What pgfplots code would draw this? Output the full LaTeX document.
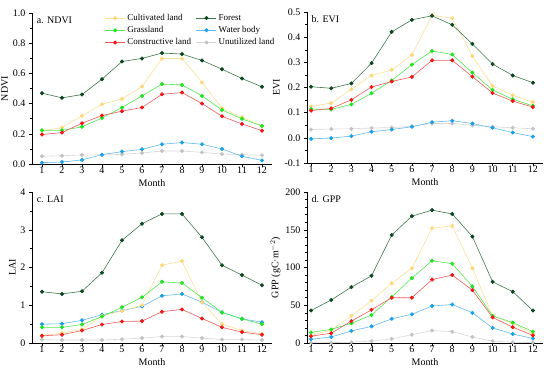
\documentclass[border=0pt]{standalone}
\usepackage{pgfplots}
\pgfplotsset{compat=1.18}
\usepackage{pgfplotstable}
\usepackage{fontspec}
\setmainfont{Liberation Serif}

\definecolor{cultL}{RGB}{250,225,150}
\definecolor{cultM}{RGB}{255,215,120}
\definecolor{forL}{RGB}{60,120,75}
\definecolor{forM}{RGB}{10,70,30}
\definecolor{grassL}{RGB}{80,235,80}
\definecolor{grassM}{RGB}{30,230,30}
\definecolor{consL}{RGB}{240,90,90}
\definecolor{consM}{RGB}{245,20,20}
\definecolor{watL}{RGB}{100,185,240}
\definecolor{watM}{RGB}{25,160,235}
\definecolor{unuL}{RGB}{215,215,215}
\definecolor{unuM}{RGB}{195,195,195}

\pgfplotstableread{
m cult forest grass water constr unut
1 0.22 0.469 0.223 0.009 0.195 0.051
2 0.241 0.438 0.223 0.013 0.208 0.055
3 0.319 0.46 0.246 0.027 0.27 0.06
4 0.396 0.562 0.305 0.062 0.321 0.06
5 0.431 0.679 0.374 0.082 0.35 0.064
6 0.513 0.699 0.451 0.097 0.374 0.073
7 0.699 0.735 0.529 0.131 0.462 0.086
8 0.699 0.728 0.524 0.142 0.473 0.086
9 0.54 0.686 0.451 0.131 0.40 0.077
10 0.369 0.628 0.358 0.10 0.316 0.066
11 0.31 0.566 0.299 0.051 0.265 0.062
12 0.252 0.511 0.252 0.024 0.221 0.058
}\ndvi

\pgfplotstableread{
m cult forest grass water constr unut
1 0.125 0.203 0.114 -0.004 0.108 0.033
2 0.138 0.197 0.113 -0.001 0.117 0.035
3 0.193 0.216 0.133 0.007 0.151 0.036
4 0.248 0.297 0.177 0.024 0.202 0.039
5 0.27 0.421 0.228 0.033 0.224 0.041
6 0.329 0.469 0.291 0.044 0.242 0.046
7 0.487 0.485 0.345 0.062 0.308 0.057
8 0.475 0.449 0.331 0.068 0.308 0.057
9 0.325 0.373 0.259 0.057 0.243 0.05
10 0.206 0.293 0.19 0.04 0.178 0.044
11 0.169 0.248 0.153 0.021 0.146 0.04
12 0.142 0.219 0.127 0.005 0.122 0.036
}\evi

\pgfplotstableread{
m cult forest grass water constr unut
1 0.2 1.36 0.415 0.5 0.19 0.09
2 0.26 1.30 0.415 0.51 0.22 0.08
3 0.36 1.37 0.49 0.6 0.33 0.08
4 0.72 1.86 0.70 0.75 0.49 0.08
5 0.85 2.72 0.945 0.86 0.57 0.1
6 1.0 3.16 1.21 0.97 0.58 0.13
7 2.06 3.42 1.62 1.25 0.83 0.17
8 2.17 3.42 1.59 1.30 0.89 0.17
9 1.08 2.80 1.2 1.08 0.65 0.13
10 0.5 2.06 0.81 0.81 0.415 0.09
11 0.33 1.80 0.64 0.64 0.29 0.09
12 0.24 1.53 0.5 0.55 0.22 0.08
}\lai

\pgfplotstableread{
m cult forest grass water constr unut
1 10 43 14 5 9 0.5
2 17 57 18 8 13 0.5
3 36 74 26 16 29 1
4 56 89 37 22 44 2.5
5 79 143 61 32 60 5.5
6 99 168 86 38 60 11
7 152 176 109 49 84 16.5
8 155 171 105 51 90 15
9 99 141 75 40 70 8
10 36 81 36 20 34 2.5
11 26 68 27 12 21 1
12 12 43 15 6 10 0.5
}\gpp

\pgfplotsset{
  panel/.style={
    scale only axis,
    height=151pt,
    axis lines=left,
    axis line style={-, line width=0.6pt},
    xmax=12.5,
    xtick={1,...,12},
    tick align=outside,
    major tick length=3pt,
    minor tick length=2pt,
    every tick/.style={black, line width=0.5pt},
    font=\fontsize{10}{12}\selectfont,
    tick label style={font=\fontsize{10}{12}\selectfont},
    /pgf/number format/assume math mode=true,
    xlabel={Month},
    xlabel style={yshift=-4pt, inner sep=1pt},
    ylabel style={yshift=-2pt},
    xticklabel style={yshift=1.5pt, inner sep=1pt},
    clip=false,
  },
  sCult/.style={color=cultL, line width=0.6pt, mark=*, mark size=1.7pt, mark options={fill=cultM, draw=cultM}},
  sFor/.style={color=forL, line width=0.6pt, mark=*, mark size=1.7pt, mark options={fill=forM, draw=forM}},
  sGrass/.style={color=grassL, line width=0.6pt, mark=*, mark size=1.7pt, mark options={fill=grassM, draw=grassM}},
  sCons/.style={color=consL, line width=0.6pt, mark=*, mark size=1.7pt, mark options={fill=consM, draw=consM}},
  sWat/.style={color=watL, line width=0.6pt, mark=*, mark size=1.7pt, mark options={fill=watM, draw=watM}},
  sUnu/.style={color=unuL, line width=0.6pt, mark=*, mark size=1.7pt, mark options={fill=unuM, draw=unuM}},
}

\newcommand{\plotall}[1]{%
  \addplot[sUnu, forget plot] table[x=m, y=unut] {#1};
  \addplot[sWat, forget plot] table[x=m, y=water] {#1};
  \addplot[sCult, forget plot] table[x=m, y=cult] {#1};
  \addplot[sGrass, forget plot] table[x=m, y=grass] {#1};
  \addplot[sCons, forget plot] table[x=m, y=constr] {#1};
  \addplot[sFor, forget plot] table[x=m, y=forest] {#1};
}

\begin{document}
\begin{tikzpicture}
\useasboundingbox (0,0) rectangle (550pt,-370pt);

% a. NDVI
\begin{axis}[panel, at={(32pt,-164pt)}, anchor=south west,
  width=240pt, xmin=0.5,
  ymin=0, ymax=1.0, ytick={0,0.2,...,1.0},
  minor y tick num=1,
  yticklabel style={/pgf/number format/.cd, fixed, fixed zerofill, precision=1},
  ylabel={NDVI},
  legend style={at={(0.29,1.02)}, anchor=north west, draw=none, fill=none,
    font=\fontsize{9}{10.5}\selectfont, legend columns=2,
    /tikz/every even column/.append style={column sep=3pt},
    row sep=0.5pt},
  legend cell align=left,
  legend image code/.code={\draw[mark repeat=2, mark phase=2, #1] plot coordinates {(0pt,0pt) (10pt,0pt) (20pt,0pt)};},
]
\addlegendimage{sCult}\addlegendentry{Cultivated land}
\addlegendimage{sFor}\addlegendentry{Forest}
\addlegendimage{sGrass}\addlegendentry{Grassland}
\addlegendimage{sWat}\addlegendentry{Water body}
\addlegendimage{sCons}\addlegendentry{Constructive land}
\addlegendimage{sUnu}\addlegendentry{Unutilized land}
\plotall{\ndvi}
\node[anchor=north west, inner sep=1pt] at (rel axis cs:0.015,0.985) {a. NDVI};
\end{axis}

% b. EVI
\begin{axis}[panel, at={(307pt,-163pt)}, anchor=south west,
  width=236pt, xmin=0.8,
  ymin=-0.1, ymax=0.5, ytick={-0.1,0,...,0.5},
  minor y tick num=1,
  yticklabel style={/pgf/number format/.cd, fixed, fixed zerofill, precision=1},
  ylabel={EVI},
]
\plotall{\evi}
\node[anchor=north west, inner sep=1pt] at (rel axis cs:0.015,0.985) {b. EVI};
\end{axis}

% c. LAI
\begin{axis}[panel, at={(32pt,-343pt)}, anchor=south west,
  width=240pt, xmin=0.5,
  ymin=0, ymax=4, ytick={0,1,2,3,4},
  minor y tick num=1,
  ylabel={LAI},
]
\plotall{\lai}
\node[anchor=north west, inner sep=1pt] at (rel axis cs:0.015,0.985) {c. LAI};
\end{axis}

% d. GPP
\begin{axis}[panel, at={(307pt,-343pt)}, anchor=south west,
  width=236pt, xmin=0.8,
  ymin=0, ymax=200, ytick={0,50,100,150,200},
  minor y tick num=4,
  ylabel={GPP (gC·m$^{-2}$)},
]
\plotall{\gpp}
\node[anchor=north west, inner sep=1pt] at (rel axis cs:0.015,0.985) {d. GPP};
\end{axis}
\end{tikzpicture}
\end{document}
